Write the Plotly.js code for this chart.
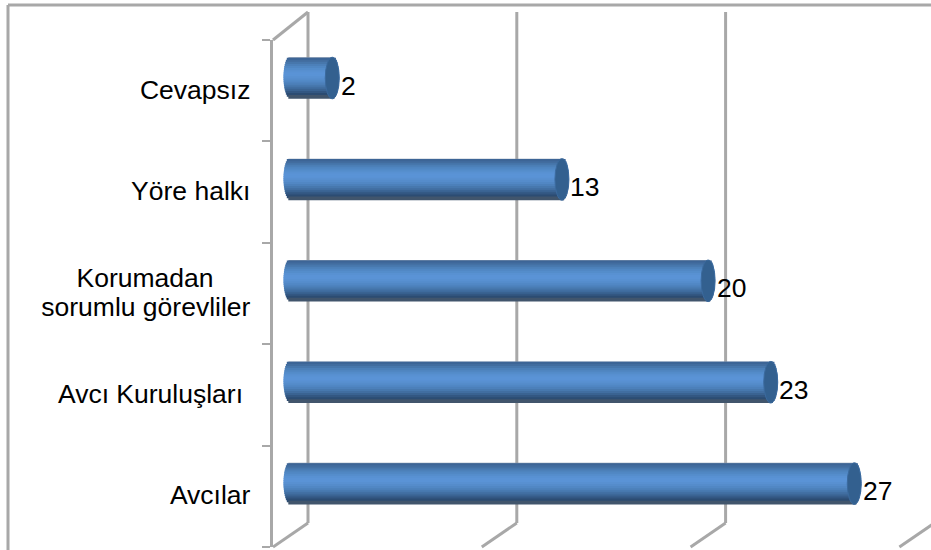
<!DOCTYPE html>
<html>
<head>
<meta charset="utf-8">
<script src="https://cdn.plot.ly/plotly-3.0.1.min.js"></script>
<style>
  html, body { margin: 0; padding: 0; background: #fff; overflow: hidden; }
</style>
</head>
<body>
<div id="chart" style="width:931px;height:550px;"></div>
<script>
// bottom to top, as the axis reads
const categories = ['Avcılar', 'Avcı Kuruluşları\u00a0', 'Korumadan\u00a0\u00a0\u00a0\u00a0\u00a0<br>sorumlu görevliler', 'Yöre halkı', 'Cevapsız'];
const values = [27, 23, 20, 13, 2];
const gridValues = [0, 10, 20, 30];

// cylinder shading, top edge to bottom edge
const shades = ['#7f93ad', '#3d6596', '#426d9f', '#4777ac', '#4c80b9', '#5087c3', '#548dcb', '#5891d2', '#5a93d6', '#5a93d6',
  '#5890d1', '#558ccb', '#5187c4', '#4c80ba', '#4778ae', '#416ea1', '#3a6392', '#335782', '#2c4c72', '#41556c'];

const W = 931, H = 550;
const plotLeft = 273, plotTop = 40, plotBottom = 547;
const pxPerUnit = 20.88;
const depthX = 35, depthY = 24;       // how far the back wall sits from the front axis
const barHeight = 0.41;               // in category units
const capRadius = 7 / pxPerUnit;      // horizontal radius of the round ends
const labelSize = 26.5;

const zeroPx = plotLeft + depthX / 2;
const xRange = [(plotLeft - zeroPx) / pxPerUnit, (W - zeroPx) / pxPerUnit];

const px = x => (x - plotLeft) / (W - plotLeft);
const py = y => (plotBottom - y) / (plotBottom - plotTop);

// one overlaid bar trace per shade, each a thin strip of the cylinder
const traces = shades.map((color, i) => {
  const t = (i + 0.5) / shades.length * 2 - 1;
  const bulge = capRadius * Math.sqrt(1 - t * t);
  const stripH = barHeight / shades.length;
  return {
    type: 'bar',
    orientation: 'h',
    yaxis: 'y2',
    y: categories,
    x: values.map(v => v + 2 * bulge),
    base: values.map(() => -bulge),
    // each strip reaches up under the one before so no white seams show
    width: i === 0 ? stripH : stripH * 1.8,
    offset: barHeight / 2 - stripH * (i + 1),
    marker: { color: color, line: { width: 0 } },
    hoverinfo: 'skip',
    showlegend: false
  };
});

const line = { color: '#a8a8a8', width: 3 };
const shapes = [];

// frame
shapes.push({ type: 'line', xref: 'paper', yref: 'paper', x0: px(8), x1: px(8), y0: py(5), y1: py(H), line: line, layer: 'below' });
shapes.push({ type: 'line', xref: 'paper', yref: 'paper', x0: px(8), x1: px(W), y0: py(5), y1: py(5), line: line, layer: 'below' });

// top corner of the side wall
shapes.push({ type: 'line', xref: 'paper', yref: 'paper', x0: px(plotLeft), x1: px(plotLeft + depthX), y0: py(plotTop), y1: py(12), line: line, layer: 'below' });

// back wall gridlines and the floor lines that run to the front
gridValues.forEach(v => {
  const back = v + depthX / 2 / pxPerUnit;
  const front = v - depthX / 2 / pxPerUnit;
  shapes.push({ type: 'line', xref: 'x', yref: 'paper', x0: back, x1: back, y0: py(12), y1: py(plotBottom - depthY), line: line, layer: 'below' });
  shapes.push({ type: 'line', xref: 'x', yref: 'paper', x0: front, x1: back, y0: py(plotBottom), y1: py(plotBottom - depthY), line: line, layer: 'below' });
});

// dark end caps of the cylinders
values.forEach((v, i) => {
  shapes.push({
    type: 'circle', xref: 'x', yref: 'y2',
    x0: v - capRadius, x1: v + capRadius,
    y0: i - barHeight / 2, y1: i + barHeight / 2,
    fillcolor: '#33608f',
    line: { color: '#3b6a9e', width: 1 }
  });
});

const annotations = values.map((v, i) => ({
  xref: 'x', yref: 'y2', x: v, y: i,
  text: String(v),
  showarrow: false,
  xanchor: 'left',
  xshift: 6.5,
  yshift: -7.5,
  font: { family: 'Liberation Sans, Arial, sans-serif', size: labelSize, color: '#000' }
}));

// line spacing follows the tick font size, the glyphs follow the span
const tickLabels = categories.map(c => c.split('<br>')
  .map(part => '<span style="font-size:' + labelSize + 'px">' + part + '</span>').join('<br>'));

const layout = {
  width: W,
  height: H,
  margin: { l: plotLeft, r: 0, t: plotTop, b: H - plotBottom, pad: 0 },
  paper_bgcolor: '#fff',
  plot_bgcolor: 'rgba(0,0,0,0)',
  barmode: 'overlay',
  showlegend: false,
  font: { family: 'Liberation Sans, Arial, sans-serif', size: 23, color: '#000' },
  xaxis: { range: xRange, visible: false, fixedrange: true },
  yaxis: {
    type: 'category',
    categoryorder: 'array',
    categoryarray: categories,
    tickmode: 'array',
    tickvals: categories,
    ticktext: tickLabels,
    range: [-0.5, 4.5],
    tickson: 'boundaries',
    ticks: 'outside',
    ticklen: 8,
    tickwidth: 2,
    tickcolor: '#a8a8a8',
    showline: true,
    linecolor: '#a8a8a8',
    linewidth: 3,
    showgrid: false,
    zeroline: false,
    ticklabelstandoff: 15,
    ticklabelshift: 2.5,
    tickfont: { size: 23 },
    fixedrange: true
  },
  // bars sit halfway into the depth, so their axis is pushed up a little
  yaxis2: {
    type: 'category',
    categoryorder: 'array',
    categoryarray: categories,
    overlaying: 'y',
    range: [-0.5 - 0.125, 4.5 - 0.125],
    visible: false,
    fixedrange: true
  },
  shapes: shapes,
  annotations: annotations
};

Plotly.newPlot('chart', [{ type: 'scatter', y: categories, x: values.map(() => null), hoverinfo: 'skip', showlegend: false }].concat(traces), layout, { displayModeBar: false, staticPlot: true });
</script>
</body>
</html>
